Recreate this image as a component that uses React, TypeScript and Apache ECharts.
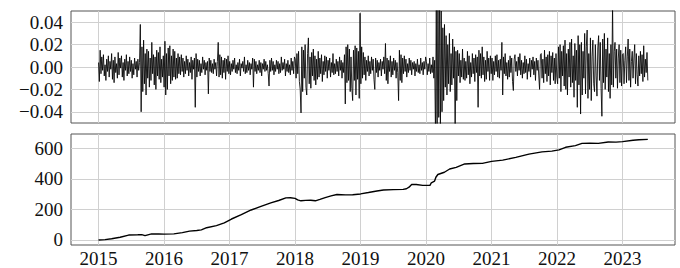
import { useEffect, useRef } from 'react';
import * as echarts from 'echarts';

// Tick labels
const yearTicks = [2015, 2016, 2017, 2018, 2019, 2020, 2021, 2022, 2023];
const retTicks = [-0.04, -0.02, 0, 0.02, 0.04];
const cumTicks = [0, 200, 400, 600];

// Daily returns, in thousandths (about 80 samples per year)
const ret2015 = [4, -13, 15, -6, 9, -3, 11, -8, 2, -12, 7, -4, 10, -9, 5, -2, 12, -11, 6, -14, 9, -5, 3, -10, 13, -7, 8, -1, 10, -9, 4, -12, 7, -3, 11, -8, 5, -6, 9, -4, 6, -10, 3, -7, 8, -2, 5, -9, 7, -3, 4, 38, -40, 18, -22, 24, -15, 12, -25, 16, -10, 14, -18, 8, -12, 22, -6, 11, -16, 9, -20, 15, -8, 13, -11, 18, -14, 7, -9, 10];
const ret2016 = [-18, 23, -25, 12, -20, 17, -8, 19, -15, 10, -12, 16, -9, 14, -11, 8, -10, 12, -6, 9, -7, 11, -4, 8, -9, 5, -6, 10, -3, 7, -8, 4, -5, 9, -11, 6, -2, 8, -36, 12, -9, 7, -4, 6, -8, 3, -5, 9, -2, 6, -7, 4, -3, 5, -24, 8, -4, 6, -5, 3, -6, 7, -2, 4, -8, 5, 22, -9, 11, -7, 9, -10, 6, -5, 8, -11, 7, -4, 10, -6];
const ret2017 = [5, -7, 3, -4, 6, -2, 8, -5, 2, -6, 4, -3, 7, -8, 3, -1, 5, -4, 9, -6, 2, -5, 6, -3, 4, -7, 3, -2, 8, -18, 7, -4, 5, -6, 2, -3, 6, -5, 4, -8, 3, -2, 7, -4, 5, -3, 2, -6, -17, 6, -4, 8, -3, 5, -7, 2, -4, 6, -2, 5, -6, 3, -5, 9, -3, 4, -2, 7, -8, 3, -4, 6, -5, 2, -7, 8, -3, 5, -6, 9];
const ret2018 = [7, -10, 12, -6, 14, -13, -20, -41, 18, -22, 15, -10, 20, -18, -25, 12, 26, -15, 9, -19, 13, -8, 16, -12, 10, -16, 7, -11, 14, -9, 8, -6, 11, -13, 5, -7, 10, -4, 9, -10, 6, -3, 8, -9, 4, -5, 12, -7, 3, -6, 7, -4, 5, -8, 9, -3, 6, -10, 4, -5, 11, -33, 18, -14, 20, -12, 16, -22, 9, -19, -30, 15, -12, 19, -25, 17, -11, 14, -28, 48];
const ret2019 = [-15, 18, -10, 13, -7, 9, -12, 6, -4, 10, -8, 5, -6, 9, -3, 7, -11, -20, 8, -5, 6, -9, 4, -3, 7, -8, 5, -2, 9, -6, 21, -12, 8, -15, 6, -4, 10, -9, 5, -7, 8, -3, 6, -10, 4, -5, -30, 15, -12, 11, -14, 8, -6, 10, -4, 7, -9, 3, -5, 8, -3, 6, -7, 4, -2, 5, -8, 3, -4, 7, -5, 2, -6, 8, -3, 4, -7, 5, -2, 9];
const ret2020 = [5, -7, 3, -4, 8, -6, 2, -5, 9, -10, 6, -60, 55, -75, 62, -45, 70, -58, 50, -40, 35, -30, 38, -18, 28, -25, 20, -15, 30, -22, 12, -16, 25, -10, 18, -62, 14, -30, 15, -8, 12, -14, 6, -9, 16, -11, 8, -12, 5, -10, 14, -7, 10, -15, 4, -9, 12, -6, 8, -13, 11, -5, 9, -36, 15, -8, 12, -10, 18, -7, 9, -13, 6, -11, 14, -4, 8, -12, 10, -6];
const ret2021 = [8, -12, 5, -7, 10, -4, 11, -9, 6, -10, 7, -3, 22, -25, 9, -6, 12, -8, 4, -11, 6, -9, 10, -5, 8, -13, -21, 7, 11, -4, 5, -8, 9, -3, 12, -7, 6, -10, 4, -6, 10, -5, 7, -11, 3, -4, 8, -9, 6, -2, 9, -7, 5, -12, 8, -3, 6, -8, -20, 11, 12, -10, 7, -14, 15, -6, 9, -13, 11, -8, 14, -16, 10, -5, 13, -12, 8, -15, 12, -9];
const ret2022 = [-15, 18, -10, 20, -22, 14, -8, 19, -17, 24, -20, 12, -25, 16, -9, 22, -18, 25, -14, 10, -27, 21, -12, 15, -36, 28, -16, 20, -42, 22, -25, 14, -10, 30, -24, 18, 33, -28, 12, -20, 26, -30, 9, 24, -15, -22, 20, -8, -26, 17, 28, -12, 22, -19, -44, 25, -14, 30, -20, 16, -9, 26, -22, 12, -28, 20, -16, 55, -18, 14, 22, -10, 16, -19, 8, 20, -14, 15, -17, 11];
const ret2023 = [12, -15, 6, 18, -14, 9, 25, -12, 16, -18, 5, 14, -10, 8, 20, -15, 12, -7, -17, 10, -8, 14, -6, 11, -13, 19, -9, 7, -5, 13, -12];

const retStart = 2015.0;
const retEnd = 2023.385;

// Cumulative series
const cumYears = [2015.0, 2015.1, 2015.2, 2015.33, 2015.46, 2015.6, 2015.66, 2015.71, 2015.81, 2015.92, 2016.0, 2016.15, 2016.28, 2016.39, 2016.5, 2016.57, 2016.65, 2016.8, 2016.92, 2017.03, 2017.18, 2017.33, 2017.48, 2017.63, 2017.75, 2017.86, 2017.93, 2018.0, 2018.04, 2018.09, 2018.16, 2018.24, 2018.31, 2018.38, 2018.46, 2018.55, 2018.64, 2018.77, 2018.88, 2019.0, 2019.12, 2019.25, 2019.35, 2019.5, 2019.65, 2019.7, 2019.74, 2019.78, 2019.85, 2019.95, 2020.06, 2020.08, 2020.13, 2020.15, 2020.18, 2020.28, 2020.36, 2020.46, 2020.59, 2020.72, 2020.86, 2021.0, 2021.17, 2021.37, 2021.57, 2021.77, 2021.92, 2022.03, 2022.13, 2022.28, 2022.38, 2022.5, 2022.63, 2022.78, 2022.9, 2023.0, 2023.16, 2023.25, 2023.385];
const cumValues = [0, 2, 8, 18, 32, 34, 35, 28, 40, 39, 38, 40, 48, 58, 62, 66, 80, 94, 112, 137, 165, 196, 220, 243, 258, 275, 276, 272, 262, 256, 259, 260, 256, 265, 277, 288, 297, 295, 296, 301, 310, 320, 327, 329, 331, 335, 345, 363, 363, 357, 357, 374, 385, 410, 428, 443, 464, 475, 497, 500, 501, 514, 522, 540, 561, 576, 581, 589, 606, 617, 632, 633, 632, 641, 640, 643, 652, 655, 658];

const FONT = 'Liberation Serif';

export default function App() {
  const ref = useRef<HTMLDivElement>(null);
  useEffect(() => {
    const chart = echarts.init(ref.current!, null, { renderer: 'svg' });
    const retAll = [...ret2015, ...ret2016, ...ret2017, ...ret2018, ...ret2019, ...ret2020, ...ret2021, ...ret2022, ...ret2023];
    const n = retAll.length;
    const retData = retAll.map((v, i) => [retStart + (i * (retEnd - retStart)) / (n - 1), v / 1000]);
    const cumData = cumYears.map((y, i) => [y, cumValues[i]]);
    const gridBase = { show: true, borderColor: '#555', borderWidth: 1, backgroundColor: 'transparent', left: 71, right: 5 };
    const splitLine = { show: true, lineStyle: { color: '#d0d0d0', width: 1 } };
    const labelStyle = { fontFamily: FONT, fontSize: 19, color: '#111' };
    chart.setOption({
      animation: false,
      textStyle: { fontFamily: FONT },
      grid: [
        { ...gridBase, top: 11, height: 112 },
        { ...gridBase, top: 134, height: 112 },
      ],
      xAxis: [
        {
          type: 'value', gridIndex: 0, min: 2014.58, max: 2023.8,
          axisLine: { show: false }, axisTick: { show: false, customValues: yearTicks },
          axisLabel: { show: false, customValues: yearTicks },
          splitLine,
        },
        {
          type: 'value', gridIndex: 1, min: 2014.58, max: 2023.8,
          axisLine: { show: false }, axisTick: { show: false, customValues: yearTicks },
          axisLabel: {
            show: true, customValues: yearTicks, margin: 4, ...labelStyle,
            formatter: (v: number) => String(Math.round(v)),
          },
          splitLine,
        },
      ],
      yAxis: [
        {
          type: 'value', gridIndex: 0, min: -0.05, max: 0.05,
          axisLine: { show: false }, axisTick: { show: false, customValues: retTicks },
          axisLabel: {
            customValues: retTicks, margin: 8, ...labelStyle,
            formatter: (v: number) => v.toFixed(2).replace('-', '\u2212'),
          },
          splitLine,
        },
        {
          type: 'value', gridIndex: 1, min: -33, max: 693,
          axisLine: { show: false }, axisTick: { show: false, customValues: cumTicks },
          axisLabel: {
            customValues: cumTicks, margin: 8, ...labelStyle,
            formatter: (v: number) => String(Math.round(v)),
          },
          splitLine,
        },
      ],
      series: [
        {
          type: 'line', xAxisIndex: 0, yAxisIndex: 0, data: retData,
          showSymbol: false, symbol: 'none', clip: true,
          lineStyle: { color: '#000', width: 0.85 },
        },
        {
          type: 'line', xAxisIndex: 1, yAxisIndex: 1, data: cumData,
          showSymbol: false, symbol: 'none', clip: true,
          lineStyle: { color: '#000', width: 1.4 },
        },
      ],
    });
    return () => chart.dispose();
  }, []);
  return <div ref={ref} style={{ position: 'absolute', left: 0, top: 0, width: 680, height: 268 }} />;
}
